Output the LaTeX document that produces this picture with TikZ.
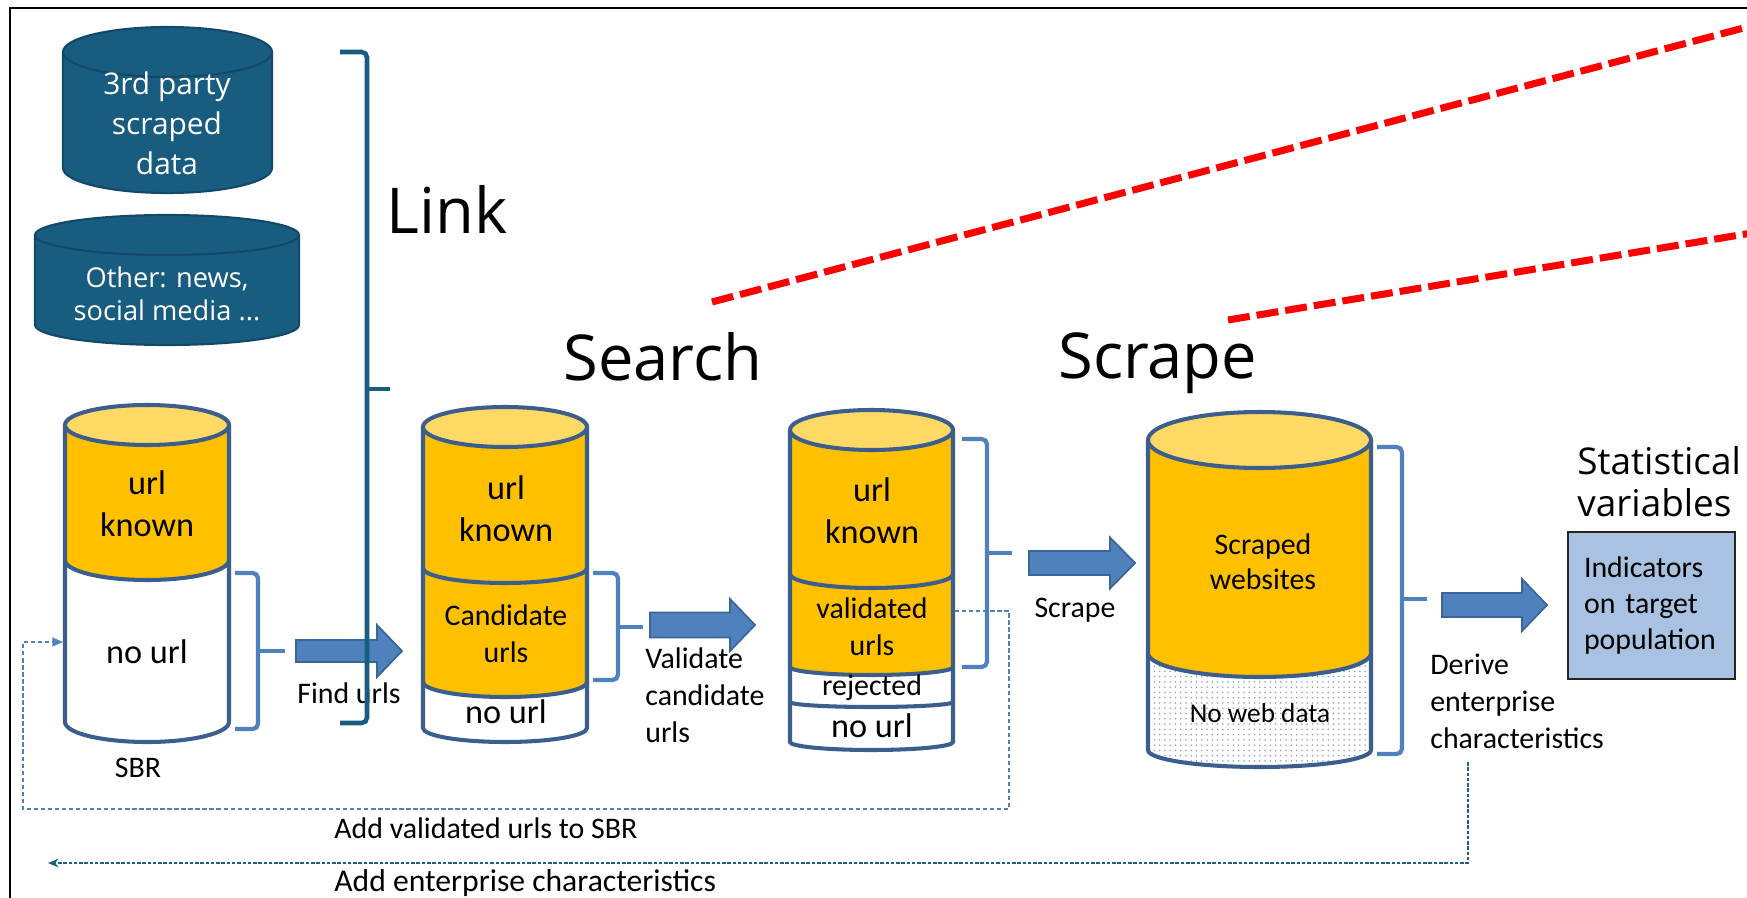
\documentclass[tikz,border=0pt]{standalone}
\usepackage{fontspec}
\setmainfont{Carlito}
\newfontfamily\headfont{Open Sans}
\usetikzlibrary{patterns,arrows.meta}

\definecolor{gold}{HTML}{FFC000}
\definecolor{goldtop}{HTML}{FFD966}
\definecolor{cylline}{RGB}{59,94,140}
\definecolor{dbteal}{HTML}{185D80}
\definecolor{dbtealdark}{HTML}{12496A}
\definecolor{bracketblue}{HTML}{4F81BD}
\definecolor{arrowfill}{HTML}{4F81BD}
\definecolor{arrowline}{HTML}{3A6598}
\definecolor{boxfill}{HTML}{A9C2E1}
\definecolor{loopteal}{HTML}{1F5F7F}
\definecolor{dotcol}{RGB}{140,160,195}

% one band of a stacked cylinder: fill between two ellipse centres,
% then the two sides and the lower rim
% #1 xl  #2 xr  #3 upper centre y  #4 upper ry  #5 lower centre y  #6 lower ry
% #7 fill style  #8 line style
\newcommand\cylband[8]{%
  \pgfmathsetmacro\cylrx{(#2-#1)/2}%
  \path[#7] (#1,#3) -- (#1,#5)
     arc[start angle=180,end angle=0,x radius=\cylrx,y radius=#6]
     -- (#2,#3)
     arc[start angle=0,end angle=180,x radius=\cylrx,y radius=#4] -- cycle;
  \draw[#8] (#1,#3) -- (#1,#5)
     arc[start angle=180,end angle=0,x radius=\cylrx,y radius=#6] -- (#2,#3);%
}
% top lid of a cylinder: #1 xl #2 xr #3 centre y #4 ry #5 style
\newcommand\cyltop[5]{%
  \pgfmathsetmacro\cylrx{(#2-#1)/2}%
  \pgfmathsetmacro\cylcx{(#2+#1)/2}%
  \draw[#5] (\cylcx,#3) ellipse[x radius=\cylrx,y radius=#4];%
}
% square bracket with a middle tick
% #1 hook x  #2 spine x  #3 top  #4 bottom  #5 tick x  #6 tick y  #7 style
\newcommand\sidebrace[7]{%
  \draw[#7, rounded corners=3pt] (#1,#3) -- (#2,#3) -- (#2,#4) -- (#1,#4);
  \draw[#7] (#2,#6) -- (#5,#6);%
}
% block arrow: #1 tail x  #2 tip x  #3 mid y  #4 shaft half  #5 head half  #6 head start x
\newcommand\blockarrow[6]{%
  \draw[blockarr] (#1,#3-#4) -- (#6,#3-#4) -- (#6,#3-#5) -- (#2,#3)
     -- (#6,#3+#5) -- (#6,#3+#4) -- (#1,#3+#4) -- cycle;%
}

\begin{document}
\begin{tikzpicture}[x=0.02cm,y=-0.02cm,
  goldfill/.style={fill=gold},
  whitefill/.style={fill=white},
  dotfill/.style={fill=white,postaction={pattern=dots,pattern color=dotcol}},
  cylpen/.style={draw=cylline,line width=2.3pt},
  goldlid/.style={draw=cylline,line width=2.3pt,fill=goldtop},
  tealfill/.style={fill=dbteal},
  tealpen/.style={draw=dbtealdark,line width=1.2pt},
  teallid/.style={draw=dbtealdark,line width=1.2pt,fill=dbteal},
  bluebrace/.style={draw=bracketblue,line width=2.4pt},
  tealbrace/.style={draw=dbteal,line width=2.6pt},
  blockarr/.style={fill=arrowfill,draw=arrowline,line width=1pt},
  lbl/.style={font=\fontsize{17pt}{21pt}\selectfont,inner sep=0pt,align=center},
  lblbig/.style={font=\fontsize{19.5pt}{23.8pt}\selectfont,inner sep=0pt,align=center},
  lblleft/.style={font=\fontsize{17pt}{21pt}\selectfont,inner sep=0pt,align=left,anchor=west},
  heading/.style={font=\headfont\fontsize{36pt}{40pt}\selectfont,inner sep=0pt,anchor=base west},
  subheading/.style={font=\headfont\fontsize{21pt}{24pt}\selectfont,inner sep=0pt,anchor=base west},
  whitetext/.style={text=white,inner sep=0pt,align=center},
  indbox/.style={draw=black!85,line width=1.1pt,fill=boxfill,align=left,
    text width=135*0.02cm,inner xsep=16*0.02cm,inner ysep=0pt,
    minimum width=167*0.02cm,minimum height=147*0.02cm,
    font=\fontsize{17pt}{20.7pt}\selectfont},
  loopA/.style={draw=bracketblue,line width=0.9pt,dash pattern=on 2.5pt off 1.5pt,
    -{Triangle[length=6pt,width=5pt]}},
  loopB/.style={draw=loopteal,line width=0.9pt,dash pattern=on 2pt off 1pt,
    -{Stealth[length=6pt,width=5pt]}},
  reddash/.style={draw=red,line width=4pt,dash pattern=on 12.5pt off 4pt}
]
\useasboundingbox (0,0) rectangle (1747,898);
\clip (0,0) rectangle (1747,898);
\fill[white] (0,0) rectangle (1747,898);
\draw[black,line width=0.9pt] (10,8) rectangle (1800,950);

% ---------- external sources ----------
\cylband{63}{272}{52}{25}{168}{25}{tealfill}{tealpen}
\cyltop{63}{272}{52}{25}{teallid}
\node[whitetext,font=\headfont\fontsize{17pt}{22.7pt}\selectfont] (thirdparty) at (167,123) {3rd party\\scraped\\data};

\cylband{35}{299}{235}{20}{325}{20}{tealfill}{tealpen}
\cyltop{35}{299}{235}{20}{teallid}
\node[whitetext,font=\headfont\fontsize{15.5pt}{18.7pt}\selectfont] (othersrc) at (167,294) {Other: news,\\social media ...};

\node[heading] (linkhead) at (386,234) {Link};

% ---------- SBR ----------
\cylband{65}{229}{560}{20}{722}{20}{whitefill}{cylpen}
\cylband{65}{229}{425}{20}{560}{20}{goldfill}{cylpen}
\cyltop{65}{229}{425}{20}{goldlid}
\node[lblbig] (sbrknown) at (147,504) {url\\known};
\node[lblbig] (sbrnourl) at (147,652) {no url};
\node[lbl] (sbr) at (138,768) {SBR};
\sidebrace{235}{258}{573}{729}{285}{651}{bluebrace}

\blockarrow{296}{402}{651}{11}{26}{377}
\node[lbl] (findurls) at (349,693) {Find urls};

% the Link bracket lies over the first arrow and its label
\sidebrace{340}{367}{52}{723}{390}{389}{tealbrace}

% ---------- candidate urls ----------
\cylband{423}{587}{682}{15}{728}{14}{whitefill}{cylpen}
\cylband{423}{587}{568}{15}{682}{15}{goldfill}{cylpen}
\cylband{423}{587}{427}{20}{568}{15}{goldfill}{cylpen}
\cyltop{423}{587}{427}{20}{goldlid}
\node[lblbig] (candknown) at (506,509) {url\\known};
\node[lbl,font=\fontsize{17pt}{21pt}\selectfont] (candurls) at (506,634) {Candidate\\urls};
\node[lblbig] (candnourl) at (506,712) {no url};
\sidebrace{593}{618}{573}{680}{643}{627}{bluebrace}
\node[heading] (searchhead) at (563,380) {Search};

\blockarrow{650}{755}{625}{12.5}{26}{730}
\node[lblleft] (validate) at (645,695) {Validate\\candidate\\urls};

% ---------- validated urls ----------
\cylband{790}{953}{702}{5}{742}{8}{whitefill}{cylpen}
\cylband{790}{953}{667}{8}{702}{5}{whitefill}{cylpen}
\cylband{790}{953}{574}{14}{667}{8}{goldfill}{cylpen}
\cylband{790}{953}{430}{20}{574}{14}{goldfill}{cylpen}
\cyltop{790}{953}{430}{20}{goldlid}
\node[lblbig] (valknown) at (872,511) {url\\known};
\node[lbl] (valurls) at (872,627) {validated\\urls};
\node[lbl] (rejected) at (872,688) {rejected};
\node[lblbig] (valnourl) at (872,726) {no url};
\sidebrace{962}{987}{439}{667}{1012}{553}{bluebrace}

\blockarrow{1029}{1135}{563}{12}{25.5}{1110}
\node[lbl] (scrapelbl) at (1075,610) {Scrape};

% ---------- scraped websites ----------
\cylband{1148}{1371}{653}{24}{750}{17}{dotfill}{cylpen}
\cylband{1148}{1371}{440}{28}{653}{24}{goldfill}{cylpen}
\cyltop{1148}{1371}{440}{28}{goldlid}
\node[lbl,font=\fontsize{17pt}{19.8pt}\selectfont] (scraped) at (1263,562) {Scraped\\websites};
\node[lbl,font=\fontsize{15.5pt}{19pt}\selectfont] (noweb) at (1260,713) {No web data};
\sidebrace{1377}{1402}{447}{754}{1427}{599}{bluebrace}
\node[heading] (scrapehead) at (1058,378) {Scrape};

\blockarrow{1442}{1547}{605}{12}{26}{1522}
\node[lblleft] (derive) at (1430,701) {Derive\\enterprise\\characteristics};

% ---------- output ----------
\node[subheading] (stat1) at (1577,474) {Statistical};
\node[subheading] (stat2) at (1577,516) {variables};
\node[indbox] (indicators) at (1651.5,605.5) {Indicators\\on target\\population};

% ---------- feedback loops ----------
\coordinate (valout) at (955,611);
\coordinate (sbrin) at (63,642);
\draw[loopA] (valout) -| (1009,809) -| (23,642) -- (sbrin);
\node[lblleft] (addurls) at (334,828) {Add validated urls to SBR};

\coordinate (deriveout) at (1468,762);
\coordinate (loopend) at (48,863);
\draw[loopB] (deriveout) |- (loopend);
\node[lblleft,font=\fontsize{18pt}{21pt}\selectfont] (addchar) at (334,883) {Add enterprise characteristics};

% ---------- red zoom lines ----------
\coordinate (redAfrom) at (712,302);
\coordinate (redAto) at (1800,13);
\coordinate (redBfrom) at (1228,320);
\coordinate (redBto) at (1800,225);
\draw[reddash] (redAfrom) -- (redAto);
\draw[reddash] (redBfrom) -- (redBto);
\end{tikzpicture}
\end{document}
